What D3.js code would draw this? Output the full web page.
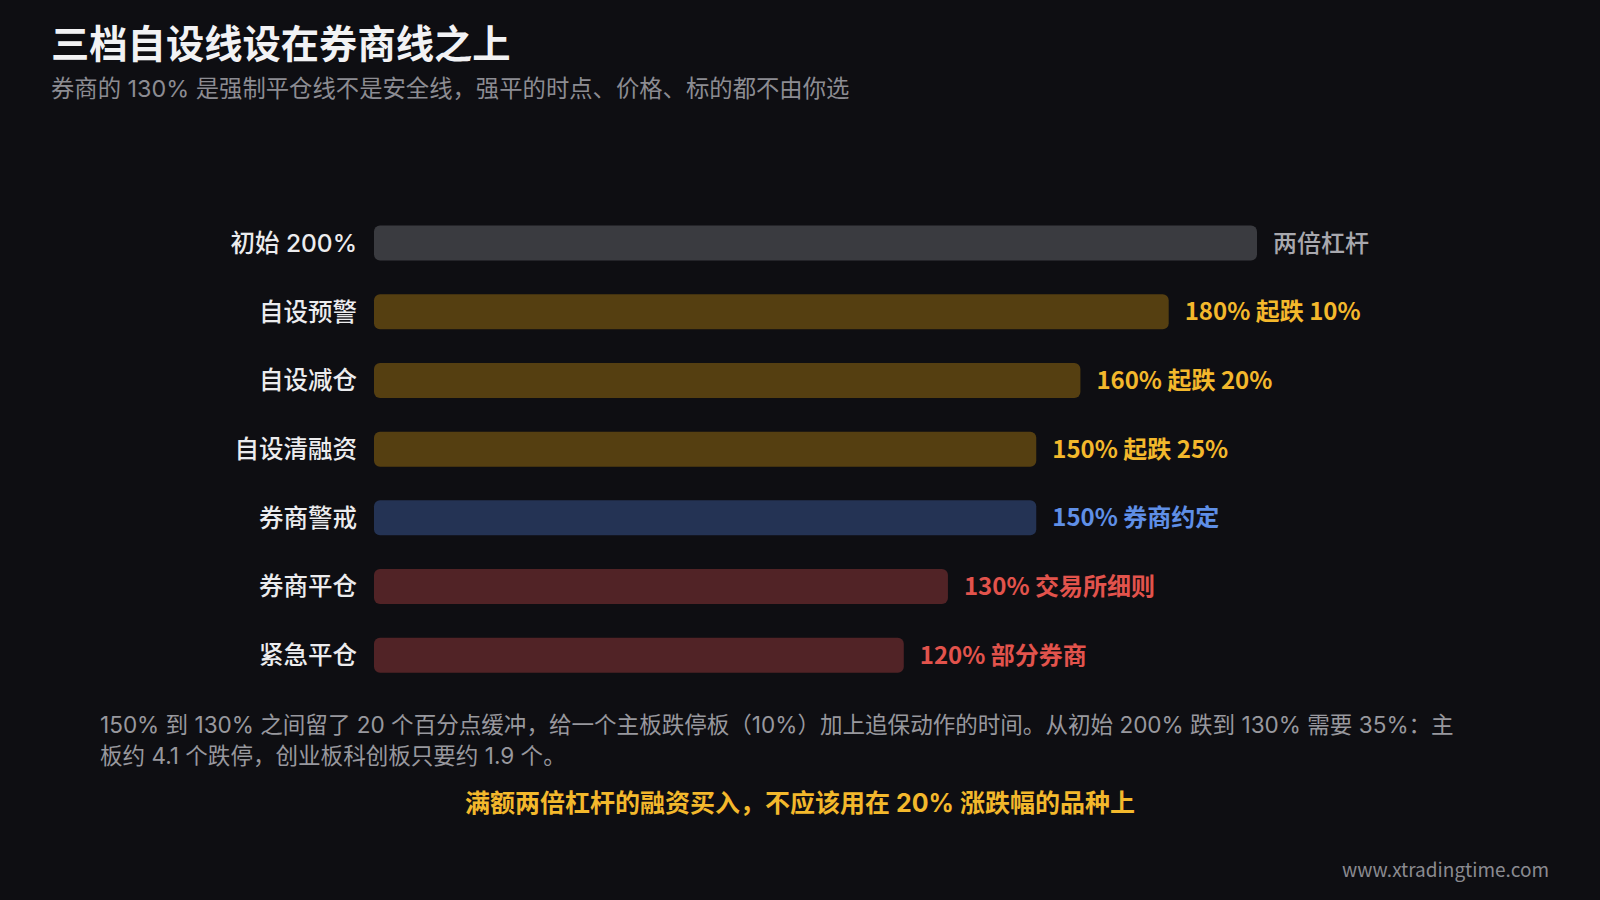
<!DOCTYPE html>
<html><head><meta charset="utf-8">
<script src="https://cdn.jsdelivr.net/npm/d3@7"></script>
<style>
html,body{margin:0;padding:0;background:#0e0e12;}
svg{display:block;font-family:"Noto Sans CJK SC","Noto Sans",sans-serif;}
.mix{font-family:Inter,"Noto Sans CJK SC",sans-serif;}
</style></head>
<body>
<svg id="chart" width="1600" height="900"></svg>
<script>
const categories = ["初始 200%","自设预警","自设减仓","自设清融资","券商警戒","券商平仓","紧急平仓"];
const ratios = [200,180,160,150,150,130,120];
const valueLabels = ["两倍杠杆","180% 起跌 10%","160% 起跌 20%","150% 起跌 25%","150% 券商约定","130% 交易所细则","120% 部分券商"];
const groups = ["base","self","self","self","broker","liq","liq"];
const barColors = {base:"#3a3b40", self:"#553f11", broker:"#243354", liq:"#512326"};
const textColors = {base:"#a8a8ae", self:"#f3b82c", broker:"#5f8fe6", liq:"#e2534c"};
const title = "三档自设线设在券商线之上";
const subtitle = "券商的 130% 是强制平仓线不是安全线，强平的时点、价格、标的都不由你选";
const noteLines = ["150% 到 130% 之间留了 20 个百分点缓冲，给一个主板跌停板（10%）加上追保动作的时间。从初始 200% 跌到 130% 需要 35%：主","板约 4.1 个跌停，创业板科创板只要约 1.9 个。"];
const highlight = "满额两倍杠杆的融资买入，不应该用在 20% 涨跌幅的品种上";
const watermark = "www.xtradingtime.com";

const svg = d3.select("#chart");
svg.append("rect").attr("width",1600).attr("height",900).attr("fill","#0e0e12");

svg.append("text").attr("x",51).attr("y",58).attr("fill","#f2f2f4")
  .attr("font-size",38.3).attr("font-weight",700).text(title);
svg.append("text").attr("class","mix").attr("x",51).attr("y",97).attr("fill","#8c8c92")
  .attr("font-size",23.35).text(subtitle);

const x = d3.scaleLinear().domain([0,200]).range([374,1257]);
const y = d3.scaleBand().domain(categories).range([208.7,689.6]).paddingInner(0.49).paddingOuter(0.245);

const rows = categories.map((c,i)=>({c, v:ratios[i], lab:valueLabels[i], g:groups[i]}));

svg.append("g").selectAll("rect").data(rows).join("rect")
  .attr("x",x(0)).attr("y",d=>y(d.c)).attr("width",d=>x(d.v)-x(0)).attr("height",y.bandwidth())
  .attr("rx",6).attr("fill",d=>barColors[d.g]);

svg.append("g").attr("class","mix").selectAll("text").data(rows).join("text")
  .attr("x",x(0)-17).attr("y",d=>y(d.c)+y.bandwidth()/2).attr("dy","0.36em")
  .attr("text-anchor","end").attr("fill","#ececee").attr("font-size",24.5).attr("font-weight",500)
  .text(d=>d.c);

svg.append("g").selectAll("text").data(rows).join("text")
  .attr("x",d=>x(d.v)+16).attr("y",d=>y(d.c)+y.bandwidth()/2).attr("dy","0.36em")
  .attr("fill",d=>textColors[d.g]).attr("font-size",24).attr("font-weight",d=>d.g==="base"?500:700)
  .text(d=>d.lab);

const note = svg.append("text").attr("class","mix").attr("fill","#98989e").attr("font-size",22.55);
noteLines.forEach((l,i)=>note.append("tspan").attr("x",100).attr("y",733+i*31).text(l));

svg.append("text").attr("class","mix").attr("x",800).attr("y",812).attr("text-anchor","middle")
  .attr("fill","#f3b82c").attr("font-size",25).attr("font-weight",700).text(highlight);

svg.append("text").attr("x",1549).attr("y",877).attr("text-anchor","end")
  .attr("fill","#8a8a90").attr("font-size",19).text(watermark);
</script>
</body></html>
